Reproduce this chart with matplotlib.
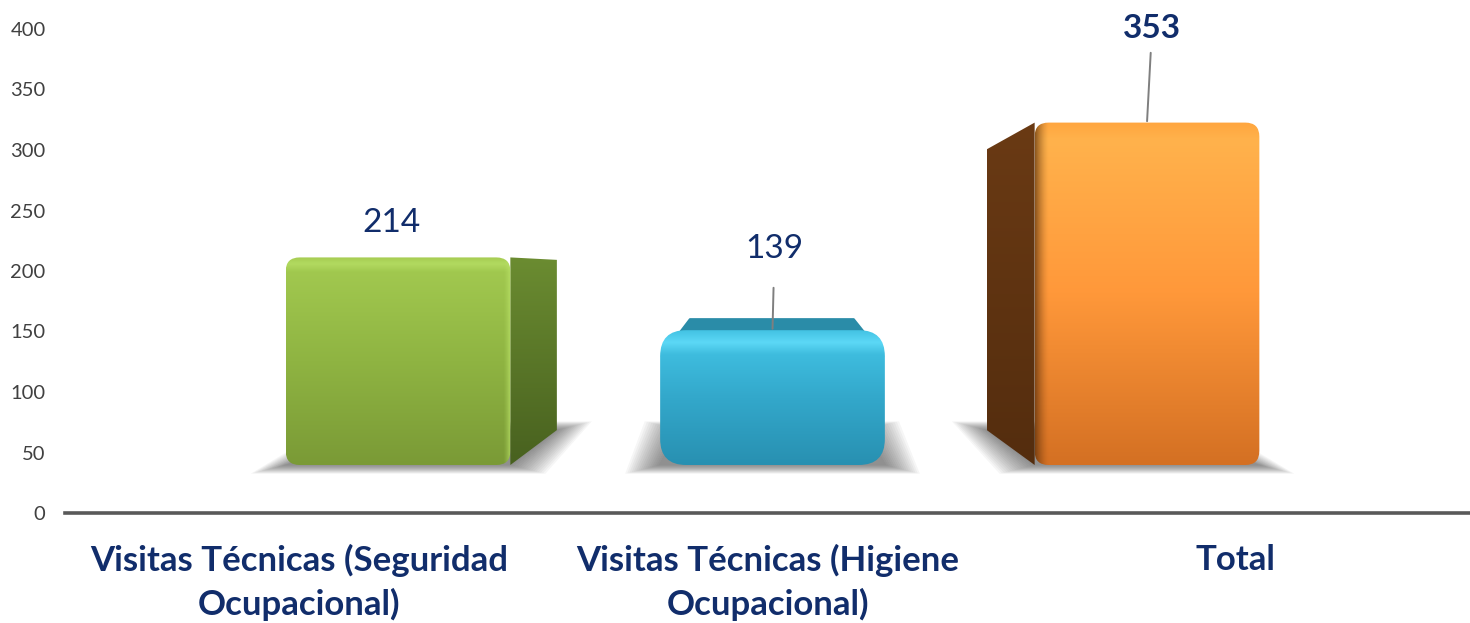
import numpy as np
import matplotlib.pyplot as plt
from matplotlib.patches import FancyBboxPatch, Polygon
from matplotlib.colors import LinearSegmentedColormap, to_rgb

# dati del grafico
categorie = ['Visitas Técnicas (Seguridad\nOcupacional)', 'Visitas Técnicas (Higiene\nOcupacional)', 'Total']
valori = [214, 139, 353]
etichette = ['214', '139', '353']
tick_y = [0, 50, 100, 150, 200, 250, 300, 350, 400]

# colori: gradiente (posizione, colore) dal basso verso l'alto
col_fronte = [[(0, '#7A9A36'), (0.5, '#8FB442'), (0.93, '#A1C84F'), (0.97, '#B2DA60'), (1, '#A6CC52')],
              [(0, '#2890B1'), (0.5, '#33A8CB'), (0.82, '#3EBCDE'), (0.91, '#5CD8F6'), (1, '#43C2E3')],
              [(0, '#D47023'), (0.5, '#FF983A'), (0.95, '#FFB24C'), (1, '#FFA63F')]]
col_lato = [['#48611F', '#6B8C31'],
            ['#1F6F88', '#2D8FAA'],
            ['#542D0E', '#6A3A14']]
col_sopra = ['#A3CA50', '#2A8CA8', '#FFB24C']
# sfumatura sul bordo della faccia frontale verso il lato: (colore, larghezza px, opacita')
bordo = [('#B8E066', 7, 0.8), None, ('#4A2608', 14, 0.75)]
raggio = [14, 26, 14]   # arrotondamento in pixel
col_testo = '#112D6B'

plt.rcParams['font.family'] = ['Lato', 'DejaVu Sans']

W_PX, H_PX = 1470, 623
fig = plt.figure(figsize=(W_PX / 100, H_PX / 100), dpi=100)

# asse principale (scala, tick e categorie)
ax = fig.add_axes([65 / W_PX, (H_PX - 513) / H_PX, (W_PX - 65) / W_PX, 484 / H_PX])
ax.set_xlim(-0.5, 2.5)
ax.set_ylim(0, 400)
ax.set_facecolor('none')
for s in ['top', 'right', 'left']:
    ax.spines[s].set_visible(False)
ax.spines['bottom'].set_color('#595959')
ax.spines['bottom'].set_linewidth(2.6)
ax.set_yticks(tick_y)
ax.tick_params(axis='y', length=0, pad=14, labelsize=14.5, labelcolor='#404040')
ax.set_xticks(range(len(categorie)))
ax.set_xticklabels(categorie, fontsize=25, fontweight='bold', color=col_testo, linespacing=1.42)
ax.tick_params(axis='x', length=0, pad=22)

# asse "prospettico" per le barre 3D
PASSO = 374.5      # pixel tra i centri delle barre
X0_PX = 398        # centro prima barra
BASE_PX = 465      # base delle barre (dall'alto)
SCALA_Y = 0.97     # pixel per unita'
ax2 = fig.add_axes([0, 0, 1, 1])
ax2.set_xlim(-X0_PX / PASSO, (W_PX - X0_PX) / PASSO)
ax2.set_ylim(-(H_PX - BASE_PX) / SCALA_Y, BASE_PX / SCALA_Y)
ax2.axis('off')

VP_X, VP_Y, K = 0.99, 200, 0.82   # punto di fuga e profondita'
LARG = 0.6
aspetto = PASSO / SCALA_Y


def proietta(x, y):
    return VP_X + (x - VP_X) * K, VP_Y + (y - VP_Y) * K


def riempi(patch, colori, extent, z):
    patch.set_facecolor('none')
    patch.set_edgecolor('none')
    ax2.add_patch(patch)
    cmap = LinearSegmentedColormap.from_list('g', colori)
    grad = np.linspace(0, 1, 256).reshape(-1, 1)
    im = ax2.imshow(grad, cmap=cmap, extent=extent, origin='lower', aspect='auto',
                    zorder=z, interpolation='bicubic')
    im.set_clip_path(patch)


for i, v in enumerate(valori):
    x0, x1 = i - LARG / 2, i + LARG / 2
    bx0, by0 = proietta(x0, 0)
    bx1, _ = proietta(x1, 0)
    _, byv = proietta(x0, v)
    rx = raggio[i] / PASSO
    ry = raggio[i] / SCALA_Y

    # ombra sfumata sul pavimento (impronta della barra)
    for j in range(16):
        ex = (2 + j * 2.2) / PASSO
        ey = (0.5 + j * 0.55) / SCALA_Y
        ombra = Polygon([(x0 - ex, -ey), (x1 + ex, -ey), (bx1 + ex, by0 + ey),
                         (bx0 - ex, by0 + ey)], closed=True,
                        facecolor='#303030', edgecolor='none', alpha=0.045, zorder=1)
        ax2.add_patch(ombra)

    # faccia laterale
    lato_dx = bx1 > x1
    if lato_dx:
        lato = Polygon([(x1, 0), (x1, v), (bx1, byv), (bx1, by0)], closed=True)
        riempi(lato, col_lato[i], (x1, bx1, 0, v), 2)
    if bx0 < x0:
        lato = Polygon([(x0, 0), (x0, v), (bx0, byv), (bx0, by0)], closed=True)
        riempi(lato, col_lato[i], (bx0, x0, 0, v), 2)

    # faccia superiore (visibile solo sotto il punto di fuga)
    if v < VP_Y:
        tx0, _ = proietta(x0, v)
        tx1, _ = proietta(x1, v)
        d = 2 / PASSO
        sopra = Polygon([(x0 + d, v - ry), (tx0 + rx * 0.4, byv), (tx1 - rx * 0.4, byv), (x1 - d, v - ry)],
                        closed=True, facecolor=col_sopra[i], edgecolor=col_sopra[i],
                        lw=2, zorder=2, joinstyle='round')
        ax2.add_patch(sopra)

    # faccia frontale arrotondata
    fronte = FancyBboxPatch((x0, 0), LARG, v, boxstyle=f'round,pad=0,rounding_size={rx}',
                            mutation_aspect=aspetto)
    riempi(fronte, col_fronte[i], (x0, x1, 0, v), 3)

    # sfumatura del bordo verso la faccia laterale
    if bordo[i] is not None:
        col, larg, alfa = bordo[i]
        w = larg / PASSO
        img = np.zeros((1, 64, 4))
        img[..., :3] = to_rgb(col)
        rampa = np.linspace(0, alfa, 64) ** 1.5
        img[0, :, 3] = rampa if lato_dx else rampa[::-1]
        ext = (x1 - w, x1, 0, v) if lato_dx else (x0, x0 + w, 0, v)
        im = ax2.imshow(img, extent=ext, aspect='auto', zorder=3.5, interpolation='bilinear')
        im.set_clip_path(fronte)

# etichette dei valori
off_lab = [(-6, 34), (2, 81), (5, 94)]
linee = [False, True, True]
accorcia = [0, 15, 5]
for i, v in enumerate(valori):
    props = None
    if linee[i]:
        props = dict(arrowstyle='-', color='#7F7F7F', lw=1.4, shrinkA=accorcia[i], shrinkB=1)
    ax2.annotate(etichette[i], xy=(i, v), xytext=off_lab[i], textcoords='offset pixels',
                 ha='center', va='center', fontsize=24,
                 fontweight='bold' if i == 2 else 'normal', color=col_testo,
                 arrowprops=props, zorder=5)

fig.savefig('out.png', dpi=100)
